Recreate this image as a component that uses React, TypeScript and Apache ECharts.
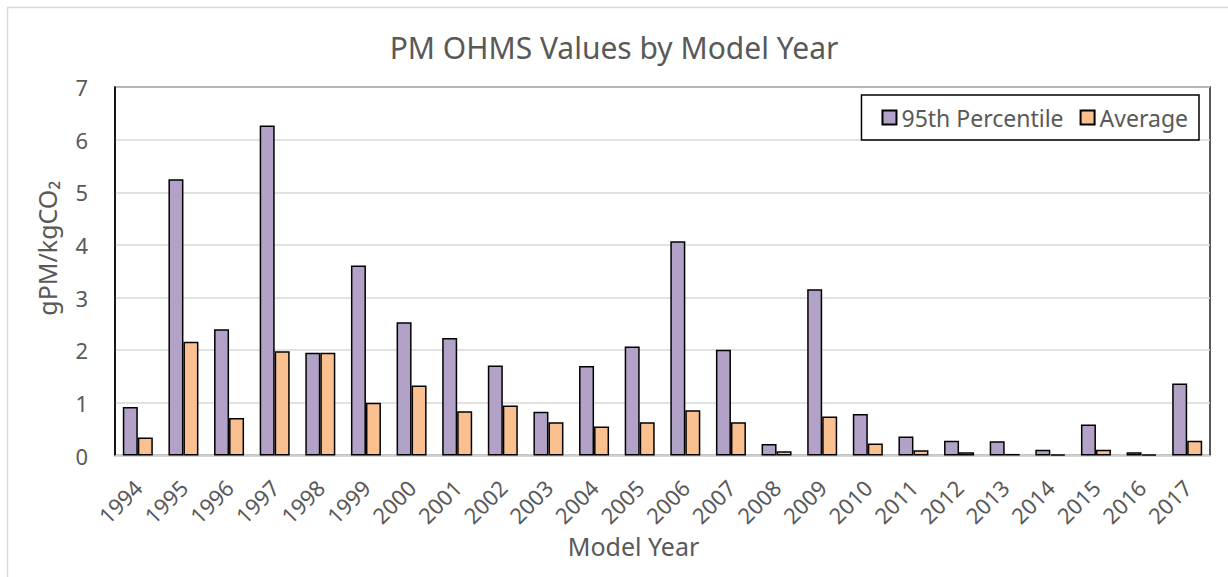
import React, { useEffect, useRef } from "react";
import * as echarts from "echarts";

const years = [
  "1994", "1995", "1996", "1997", "1998", "1999", "2000", "2001", "2002", "2003", "2004", "2005",
  "2006", "2007", "2008", "2009", "2010", "2011", "2012", "2013", "2014", "2015", "2016", "2017",
];
const p95 = [
  0.92, 5.25, 2.4, 6.27, 1.95, 3.61, 2.53, 2.23, 1.71, 0.83, 1.7, 2.07,
  4.07, 2.01, 0.22, 3.16, 0.79, 0.36, 0.28, 0.27, 0.11, 0.59, 0.06, 1.37,
];
const avg = [
  0.34, 2.16, 0.71, 1.98, 1.95, 1.0, 1.33, 0.84, 0.95, 0.63, 0.55, 0.63,
  0.86, 0.63, 0.08, 0.74, 0.23, 0.1, 0.06, 0.03, 0.02, 0.11, 0.02, 0.28,
];
const yTicks = { min: 0, max: 7, interval: 1 };

const FONT = "'Noto Sans', 'Open Sans', sans-serif";
const GREY = "#595959";

export default function App() {
  const ref = useRef<HTMLDivElement>(null);
  useEffect(() => {
    document.body.style.margin = "0";
    const chart = echarts.init(ref.current!, null, { renderer: "svg" });
    chart.setOption({
      animation: false,
      backgroundColor: "#ffffff",
      textStyle: { fontFamily: FONT },
      title: {
        text: "PM OHMS Values by Model Year",
        left: "center",
        top: 27,
        textStyle: { fontFamily: FONT, fontSize: 30, fontWeight: "normal", color: GREY },
      },
      graphic: [
        {
          type: "rect",
          shape: { x: 7.5, y: 7.5, width: 1240, height: 600 },
          style: { fill: "none", stroke: "#d9d9d9", lineWidth: 1.5 },
          silent: true,
          z: -10,
        },
      ],
      legend: {
        right: 29,
        top: 95,
        orient: "horizontal",
        padding: [11, 11, 11, 20],
        borderColor: "#000",
        borderWidth: 1.5,
        itemWidth: 14,
        itemHeight: 14,
        itemGap: 16,
        icon: "rect",
        textStyle: { fontFamily: FONT, fontSize: 23, color: GREY },
        data: ["95th Percentile", "Average"],
      },
      grid: {
        left: 115,
        right: 18,
        top: 87,
        bottom: 121.5,
        show: true,
        borderColor: "#222",
        borderWidth: 1.5,
        containLabel: false,
      },
      xAxis: {
        type: "category",
        data: years,
        name: "Model Year",
        nameLocation: "middle",
        nameGap: 78,
        nameTextStyle: { fontFamily: FONT, fontSize: 25, color: GREY, padding: [0, 58, 0, 0] },
        axisLine: { show: true, lineStyle: { color: "#d9d9d9", width: 1.5 } },
        axisTick: { show: false },
        axisLabel: {
          interval: 0,
          rotate: 45,
          margin: 28,
          fontFamily: FONT,
          fontSize: 22,
          color: GREY,
        },
      },
      yAxis: {
        type: "value",
        min: yTicks.min,
        max: yTicks.max,
        interval: yTicks.interval,
        name: "gPM/kgCO₂",
        nameLocation: "middle",
        nameGap: 56,
        nameTextStyle: { fontFamily: FONT, fontSize: 25, color: GREY, padding: [0, 0, 0, 46] },
        axisLine: { show: true, lineStyle: { color: "#000", width: 1.5 } },
        axisTick: { show: false },
        axisLabel: { fontFamily: FONT, fontSize: 22, color: GREY, margin: 27 },
        splitLine: { show: true, lineStyle: { color: "#d9d9d9", width: 1.5 } },
      },
      series: [
        {
          name: "95th Percentile",
          type: "bar",
          data: p95,
          barWidth: 15,
          barGap: "0%",
          itemStyle: { color: "#B3A2C7", borderColor: "#000", borderWidth: 1.5 },
        },
        {
          name: "Average",
          type: "bar",
          data: avg,
          barWidth: 15,
          barGap: "0%",
          itemStyle: { color: "#FAC090", borderColor: "#000", borderWidth: 1.5 },
        },
      ],
    });
    return () => chart.dispose();
  }, []);
  return (
    <div
      ref={ref}
      style={{ position: "fixed", left: 0, top: 0, width: 1228, height: 577 }}
    />
  );
}
